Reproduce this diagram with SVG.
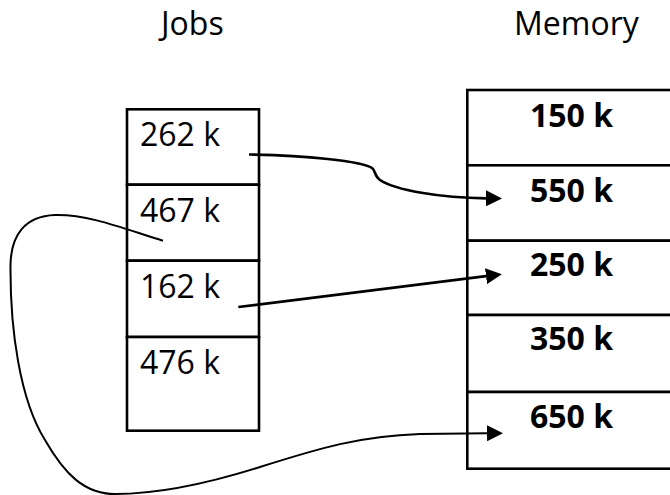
<svg xmlns="http://www.w3.org/2000/svg" width="670" height="495" viewBox="0 0 670 495">
  <style>
    .cell { fill: #ffffff; stroke: #000000; stroke-width: 2.6; }
    .lbl { font-family: "Open Sans", "Liberation Sans", sans-serif; font-size: 32px; fill: #000000; }
    .job { font-family: "Open Sans", "Liberation Sans", sans-serif; font-size: 32px; fill: #000000; }
    .mem { font-family: "Open Sans", "Liberation Sans", sans-serif; font-size: 32px; font-weight: bold; fill: #000000; }
    .conn { fill: none; stroke: #000000; stroke-linecap: butt; }
  </style>
  <defs>
    <marker id="arrow" markerUnits="userSpaceOnUse" viewBox="0 0 16 16" refX="0" refY="8" markerWidth="16" markerHeight="16" orient="auto">
      <path d="M0,0 L16,8 L0,16 Z" fill="#000000"/>
    </marker>
  </defs>
  <rect width="670" height="495" fill="#ffffff"/>

  <g id="titles">
    <text class="lbl" x="161" y="35">Jobs</text>
    <text class="lbl" x="514" y="35">Memory</text>
  </g>

  <g id="jobs">
    <g id="job-262"><rect class="cell" x="127" y="109.3" width="132" height="75.4"/><text class="job" x="140" y="146">262 k</text></g>
    <g id="job-467"><rect class="cell" x="127" y="184.7" width="132" height="76"/><text class="job" x="140" y="222">467 k</text></g>
    <g id="job-162"><rect class="cell" x="127" y="260.7" width="132" height="76.3"/><text class="job" x="140" y="297.5">162 k</text></g>
    <g id="job-476"><rect class="cell" x="127" y="337" width="132" height="93.7"/><text class="job" x="140" y="373.5">476 k</text></g>
  </g>

  <g id="memory">
    <g id="mem-150"><rect class="cell" x="467.3" y="90" width="215" height="75.3"/><text class="mem" x="530" y="126.7">150 k</text></g>
    <g id="mem-550"><rect class="cell" x="467.3" y="165.3" width="215" height="75.4"/><text class="mem" x="530" y="202.3">550 k</text></g>
    <g id="mem-250"><rect class="cell" x="467.3" y="240.7" width="215" height="74.3"/><text class="mem" x="530" y="276">250 k</text></g>
    <g id="mem-350"><rect class="cell" x="467.3" y="315" width="215" height="77"/><text class="mem" x="530" y="350">350 k</text></g>
    <g id="mem-650"><rect class="cell" x="467.3" y="392" width="215" height="76.7"/><text class="mem" x="530" y="428.3">650 k</text></g>
  </g>

  <g id="connectors">
    <path class="conn" stroke-width="2.7" marker-end="url(#arrow)" d="M249,154.5 C305,155.5 362,161 372,168 C376,171 374,176 380,180 C395,190 440,198 486,198.3"/>
    <path class="conn" stroke-width="2.7" marker-end="url(#arrow)" d="M238.3,307 L486,276.2"/>
    <path class="conn" stroke-width="2" marker-end="url(#arrow)" d="M163,240.7 C130,231 90,214 55,215 C25,216 11,235 10.5,265 C10,330 20,400 45,440 C65,475 85,494 115,494 C150,494 200,486 260,467 C320,448 360,436 420,434 L487,433.3"/>
  </g>
</svg>
